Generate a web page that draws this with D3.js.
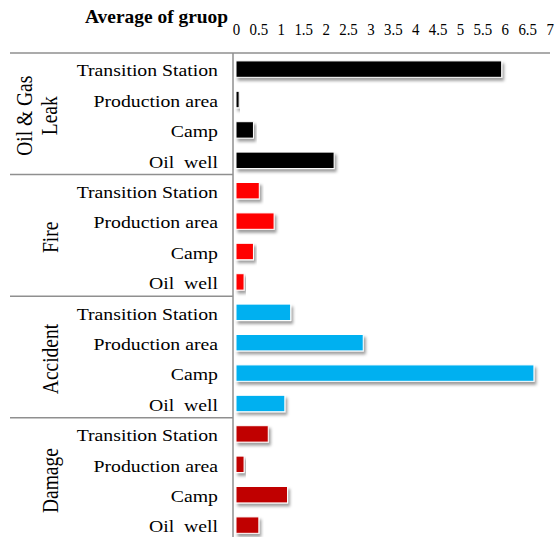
<!DOCTYPE html>
<html>
<head>
<meta charset="utf-8">
<script src="https://cdn.jsdelivr.net/npm/d3@7"></script>
<style>
  html, body { margin: 0; padding: 0; background: #fff; }
  svg { display: block; }
  svg text { font-family: "Liberation Serif", "Times New Roman", serif; }
</style>
</head>
<body>
<svg id="chart" width="559" height="537"></svg>
<script>
// Hazard groups, locations within each group, and the average per location
const groups = ["Oil & Gas Leak", "Fire", "Accident", "Damage"];
const groupLines = [["Oil & Gas", "Leak"], ["Fire"], ["Accident"], ["Damage"]];
const locations = ["Transition Station", "Production area", "Camp", "Oil  well"];
const colors = ["#000000", "#ff0000", "#00b0f0", "#c00000"];

const oilGasLeak = [5.93, 0.07, 0.39, 2.19];
const fire       = [0.52, 0.85, 0.39, 0.18];
const accident   = [1.22, 2.84, 6.65, 1.09];
const damage     = [0.72, 0.18, 1.15, 0.51];
const seriesValues = [oilGasLeak, fire, accident, damage];

const tickValues = [0, 0.5, 1, 1.5, 2, 2.5, 3, 3.5, 4, 4.5, 5, 5.5, 6, 6.5, 7];

// Flatten into one row per bar
const rows = [];
groups.forEach((g, gi) => {
  locations.forEach((loc, li) => {
    rows.push({ group: g, gi, loc, value: seriesValues[gi][li], key: gi + "|" + li });
  });
});

const svg = d3.select("#chart");
const serif = "Liberation Serif, Times New Roman, serif";
const lineColor = "#8f8f8f";

const plotLeft = 236, plotRight = 549.6, plotTop = 53, rowH = 30.4;
const innerPad = 0.46, outerPad = 0.26;
const plotBottom = plotTop + rowH * (rows.length - innerPad + 2 * outerPad);

const x = d3.scaleLinear().domain([0, 7]).range([plotLeft, plotRight]);
const y = d3.scaleBand().domain(rows.map(r => r.key)).range([plotTop, plotBottom])
  .paddingInner(innerPad).paddingOuter(outerPad);

// soft drop shadow under bars
const defs = svg.append("defs");
const f = defs.append("filter").attr("id", "shadow")
  .attr("x", "-10%").attr("y", "-40%").attr("width", "130%").attr("height", "200%");
f.append("feDropShadow").attr("dx", 2).attr("dy", 3).attr("stdDeviation", 1.8)
  .attr("flood-color", "#000").attr("flood-opacity", 0.38);

// title
svg.append("text")
  .attr("transform", "translate(85,23) scale(1.08,1)")
  .style("font-family", serif).attr("font-weight", "bold").attr("font-size", 18)
  .attr("fill", "#000")
  .text("Average of gruop");

// top value axis
const xAxis = d3.axisTop(x).tickValues(tickValues).tickSize(0).tickPadding(0)
  .tickFormat(d => String(d));
const gx = svg.append("g").attr("transform", "translate(0,35)").call(xAxis)
  .attr("font-family", null);
gx.select(".domain").remove();
gx.selectAll("text")
  .style("font-family", serif).attr("font-size", 17.5).attr("fill", "#000")
  .attr("transform", "scale(0.85,1)").attr("x", 0);

// frame lines
svg.append("line").attr("x1", 10).attr("x2", 550).attr("y1", plotTop).attr("y2", plotTop)
  .attr("stroke", lineColor).attr("stroke-width", 1.5);
svg.append("line").attr("x1", 233).attr("x2", 233).attr("y1", plotTop).attr("y2", 537)
  .attr("stroke", lineColor).attr("stroke-width", 1.5);

// group separators
for (let gi = 1; gi < groups.length; gi++) {
  const yy = plotTop + gi * locations.length * rowH;
  svg.append("line").attr("x1", 10).attr("x2", 233).attr("y1", yy).attr("y2", yy)
    .attr("stroke", lineColor).attr("stroke-width", 1.5);
}

// bars
svg.append("g").selectAll("rect").data(rows).join("rect")
  .attr("x", x(0))
  .attr("y", d => y(d.key))
  .attr("width", d => x(d.value) - x(0))
  .attr("height", y.bandwidth())
  .attr("fill", d => colors[d.gi])
  .attr("stroke", "#fff").attr("stroke-width", 1)
  .attr("filter", "url(#shadow)");

// location labels
svg.append("g").selectAll("text").data(rows).join("text")
  .attr("transform", d => `translate(218,${y(d.key) + y.bandwidth() / 2 + 1.8}) scale(1.19,1)`)
  .attr("dy", "0.33em")
  .attr("text-anchor", "end")
  .style("font-family", serif).attr("font-size", 16.6).attr("fill", "#000")
  .attr("xml:space", "preserve")
  .style("white-space", "pre")
  .text(d => d.loc);

// rotated group labels
groups.forEach((g, gi) => {
  const cy = plotTop + (gi + 0.5) * locations.length * rowH + 2;
  const lines = groupLines[gi];
  const bx = lines.length > 1 ? 32 : 58;
  const t = svg.append("text")
    .attr("transform", `translate(${bx},${cy}) scale(1.15,1) rotate(-90)`)
    .attr("text-anchor", "middle")
    .style("font-family", serif).attr("font-size", 19.5).attr("fill", "#000");
  lines.forEach((ln, i) => {
    t.append("tspan").attr("x", 0).attr("y", i * 21.7).text(ln);
  });
});
</script>
</body>
</html>
